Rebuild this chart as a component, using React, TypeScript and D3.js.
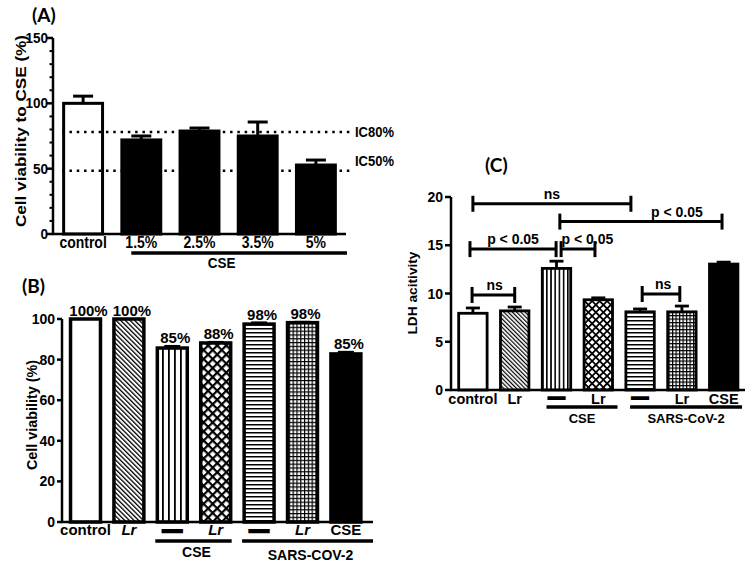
import React from "react";
import * as d3 from "d3";

const FONT = "'Liberation Sans', Arial, Helvetica, sans-serif";
const LABEL_FONT = "Lato, 'Liberation Sans', sans-serif";

// ---------- Panel A ----------
const aCategories = ["control", "1.5%", "2.5%", "3.5%", "5%"];
const aValues = [100, 72, 78.8, 75, 52.8];
const aErrors = [5.5, 3, 2.3, 10.7, 3.8];
const aTicks = [0, 50, 100, 150];
const aRefValues = [78, 48.5];
const aRefLabels = ["IC80%", "IC50%"];
const aGroupLabel = "CSE";
const aYTitle = "Cell viability to CSE (%)";

// ---------- Panel B ----------
const bCategories = ["control", "Lr", "—", "Lr", "—", "Lr", "CSE"];
const bValues = [100, 100, 85.7, 88.2, 97.5, 98.2, 82.8];
const bErrors = [0, 0, 0.9, 0.4, 0.7, 0.3, 0.9];
const bValueLabels = ["100%", "100%", "85%", "88%", "98%", "98%", "85%"];
const bTicks = [0, 20, 40, 60, 80, 100];
const bGroupLabels = ["CSE", "SARS-COV-2"];
const bGroupFrom = [2, 4];
const bGroupTo = [3, 6];
const bYTitle = "Cell viability (%)";

// ---------- Panel C ----------
const cCategories = ["control", "Lr", "—", "Lr", "—", "Lr", "CSE"];
const cValues = [7.95, 8.2, 12.6, 9.35, 8.1, 8.1, 13.05];
const cErrors = [0.55, 0.4, 0.75, 0.2, 0.3, 0.6, 0.2];
const cTicks = [0, 5, 10, 15, 20];
const cGroupLabels = ["CSE", "SARS-CoV-2"];
const cGroupFrom = [2, 4];
const cGroupTo = [3, 6];
const cYTitle = "LDH acitivity";
const cBracketLabels = ["ns", "p < 0.05", "p < 0.05", "p < 0.05", "ns", "ns"];
const cBracketFrom = [0, 2.08, -0.07, 2.11, -0.02, 4.05];
const cBracketTo = [3.78, 5.96, 1.99, 2.92, 1.0, 4.95];
const cBracketY = [19.3, 17.45, 14.6, 14.6, 9.85, 9.95];
const cBracketLabelPos = [1.89, 4.88, 0.96, 2.74, 0.52, 4.55];

// fill style for each bar (B and C share the same order)
const barStyles = ["white", "diag", "vert", "cross", "horiz", "grid", "black"];
const italicLr = [false, true, false, true, false, true, false];

function T({ x, y, sy = 1, children, ...rest }: any) {
  return (
    <text transform={`translate(${x},${y}) scale(1,${sy})`} {...rest}>
      {children}
    </text>
  );
}

function Patterns({ id, s }: { id: string; s: any }) {
  return (
    <>
      <pattern id={`${id}-diag`} patternUnits="userSpaceOnUse" width={s.diag[0]} height={10} patternTransform="rotate(-45)">
        <rect width={s.diag[0]} height={10} fill="white" />
        <rect width={s.diag[1]} height={10} fill="black" />
      </pattern>
      <pattern id={`${id}-vert`} patternUnits="userSpaceOnUse" width={s.vert[0]} height={10}>
        <rect width={s.vert[0]} height={10} fill="white" />
        <rect width={s.vert[1]} height={10} fill="black" />
      </pattern>
      <pattern id={`${id}-horiz`} patternUnits="userSpaceOnUse" width={10} height={s.horiz[0]}>
        <rect width={10} height={s.horiz[0]} fill="white" />
        <rect width={10} height={s.horiz[1]} fill="black" />
      </pattern>
      <pattern id={`${id}-cross`} patternUnits="userSpaceOnUse" width={s.cross[0]} height={s.cross[0]} patternTransform="rotate(45)">
        <rect width={s.cross[0]} height={s.cross[0]} fill="white" />
        <rect width={s.cross[0]} height={s.cross[1]} fill="black" />
        <rect width={s.cross[1]} height={s.cross[0]} fill="black" />
      </pattern>
      <pattern id={`${id}-grid`} patternUnits="userSpaceOnUse" width={s.grid[0]} height={s.grid[0]}>
        <rect width={s.grid[0]} height={s.grid[0]} fill="white" />
        <rect width={s.grid[0]} height={s.grid[1]} fill="black" />
        <rect width={s.grid[1]} height={s.grid[0]} fill="black" />
      </pattern>
    </>
  );
}

function fillFor(id: string, style: string) {
  if (style === "white") return "white";
  if (style === "black") return "black";
  return `url(#${id}-${style})`;
}

function PanelA() {
  const y = d3.scaleLinear().domain([0, 150]).range([234, 38]);
  const x = d3.scaleBand<number>().domain(d3.range(aCategories.length)).range([54, 345]).paddingInner(0.28).paddingOuter(0.14);
  const bw = x.bandwidth();
  const axisX = 53;
  const axisEnd = 346;
  const minor = d3.range(0, 151, 10).filter((v) => v % 50 !== 0);
  const sy = 1.15;
  const c = (i: number) => (x(i) as number) + bw / 2;
  return (
    <g>
      <text x={32} y={22} fontFamily={LABEL_FONT} fontWeight="bold" fontSize={19}>(A)</text>
      {aValues.map((v, i) => (
        <rect key={i} x={(x(i) as number) + 1.5} width={bw - 3} y={y(v)} height={y(0) - y(v)}
          fill={i === 0 ? "white" : "black"} stroke="black" strokeWidth={3} />
      ))}
      {aValues.map((v, i) => (
        <g key={i} stroke="black" strokeWidth={3}>
          <line x1={c(i)} x2={c(i)} y1={y(v)} y2={y(v + aErrors[i])} />
          <line x1={c(i) - 10} x2={c(i) + 10} y1={y(v + aErrors[i])} y2={y(v + aErrors[i])} />
        </g>
      ))}
      {aRefValues.map((v, i) => (
        <g key={i}>
          <line x1={x(0) as number} x2={axisEnd + 6} y1={y(v)} y2={y(v)} stroke="black" strokeWidth={2.5} strokeDasharray="2.5 4.8" />
          <T x={355} y={i === 0 ? y(v) + 5 : y(v) - 5} sy={sy} fontFamily={FONT} fontWeight="bold" fontSize={13}>{aRefLabels[i]}</T>
        </g>
      ))}
      <line x1={axisX} x2={axisX} y1={y(0) + 1} y2={y(150)} stroke="black" strokeWidth={2.5} />
      <line x1={axisX - 1} x2={axisEnd} y1={y(0)} y2={y(0)} stroke="black" strokeWidth={2.5} />
      {aTicks.map((t) => (
        <g key={t}>
          <line x1={axisX - 6} x2={axisX} y1={y(t)} y2={y(t)} stroke="black" strokeWidth={2.5} />
          <T x={48} y={y(t) + 5} sy={sy} textAnchor="end" fontFamily={FONT} fontWeight="bold" fontSize={13.5}>{t}</T>
        </g>
      ))}
      {minor.map((t) => (
        <line key={t} x1={axisX - 3.5} x2={axisX} y1={y(t)} y2={y(t)} stroke="black" strokeWidth={2} />
      ))}
      {aCategories.map((cat, i) => (
        <T key={i} x={c(i)} y={248} sy={sy} textAnchor="middle" fontFamily={FONT} fontWeight="bold" fontSize={14}>{cat}</T>
      ))}
      <line x1={c(1) - 10} x2={axisEnd + 1} y1={253} y2={253} stroke="black" strokeWidth={3.5} />
      <T x={(c(1) + c(4)) / 2 - 7} y={268} sy={sy} textAnchor="middle" fontFamily={FONT} fontWeight="bold" fontSize={13.5}>{aGroupLabel}</T>
      <text transform="translate(26,131) rotate(-90)" textAnchor="middle" fontFamily={FONT} fontWeight="bold" fontSize={15}
        textLength={192} lengthAdjust="spacingAndGlyphs">{aYTitle}</text>
    </g>
  );
}

function PanelB() {
  const id = "pb";
  const y = d3.scaleLinear().domain([0, 100]).range([522, 319]);
  const x = d3.scaleBand<number>().domain(d3.range(bCategories.length)).range([63.8, 367.6]).paddingInner(0.31).paddingOuter(0.155);
  const bw = x.bandwidth();
  const axisX = 62;
  const axisEnd = 373;
  const c = (i: number) => (x(i) as number) + bw / 2;
  return (
    <g>
      <defs>
        <Patterns id={id} s={{ diag: [3.3, 1.3], vert: [6, 1.8], horiz: [4, 1.5], cross: [6.4, 2.2], grid: [3.8, 1.2] }} />
      </defs>
      <text x={22} y={293} fontFamily={LABEL_FONT} fontWeight="bold" fontSize={19}>(B)</text>
      {bValues.map((v, i) => (
        <rect key={i} x={(x(i) as number)} width={bw} y={y(v)} height={y(0) - y(v)}
          fill={fillFor(id, barStyles[i])} stroke="black" strokeWidth={3.5} />
      ))}
      {bValues.map((v, i) =>
        bErrors[i] > 0 ? (
          <g key={i} stroke="black" strokeWidth={2.5}>
            <line x1={c(i)} x2={c(i)} y1={y(v)} y2={y(v + bErrors[i])} />
            <line x1={c(i) - 8} x2={c(i) + 8} y1={y(v + bErrors[i])} y2={y(v + bErrors[i])} />
          </g>
        ) : null
      )}
      {bValueLabels.map((l, i) => (
        <text key={i} x={c(i) + 3} y={y(bValues[i] + bErrors[i]) - 3} textAnchor="middle" fontFamily={FONT} fontWeight="bold" fontSize={15}>{l}</text>
      ))}
      <line x1={axisX} x2={axisX} y1={y(0) + 1} y2={y(100)} stroke="black" strokeWidth={2.5} />
      <line x1={axisX - 1} x2={axisEnd} y1={y(0)} y2={y(0)} stroke="black" strokeWidth={2.5} />
      {bTicks.map((t) => (
        <g key={t}>
          <line x1={axisX - 5} x2={axisX} y1={y(t)} y2={y(t)} stroke="black" strokeWidth={2.5} />
          <text x={55} y={y(t) + 5} textAnchor="end" fontFamily={FONT} fontWeight="bold" fontSize={14}>{t}</text>
        </g>
      ))}
      {bCategories.map((cat, i) =>
        cat === "—" ? (
          <text key={i} x={c(i)} y={536} textAnchor="middle" fontFamily={FONT} fontWeight="bold" fontSize={19} stroke="black" strokeWidth={2.4}>{cat}</text>
        ) : (
          <text key={i} x={c(i)} y={535} textAnchor="middle" fontFamily={FONT} fontWeight="bold" fontSize={15}
            fontStyle={italicLr[i] ? "italic" : "normal"}>{cat}</text>
        )
      )}
      {bGroupLabels.map((g, k) => {
        const x1 = c(bGroupFrom[k]) - 17;
        const x2 = bGroupTo[k] === bCategories.length - 1 ? axisEnd : (x(bGroupTo[k]) as number) + bw + 1;
        return (
          <g key={k}>
            <line x1={x1} x2={x2} y1={541} y2={541} stroke="black" strokeWidth={3.5} />
            <text x={(x1 + x2) / 2 + 3} y={k === 0 ? 557 : 560} textAnchor="middle" fontFamily={FONT} fontWeight="bold" fontSize={14}>{g}</text>
          </g>
        );
      })}
      <text transform="translate(37,415) rotate(-90)" textAnchor="middle" fontFamily={FONT} fontWeight="bold" fontSize={14}
        textLength={110} lengthAdjust="spacingAndGlyphs">{bYTitle}</text>
    </g>
  );
}

function PanelC() {
  const id = "pc";
  const y = d3.scaleLinear().domain([0, 20]).range([390, 197]);
  const x = d3.scaleBand<number>().domain(d3.range(cCategories.length)).range([452, 744.6]).paddingInner(0.32).paddingOuter(0.16);
  const bw = x.bandwidth();
  const step = x.step();
  const axisX = 451;
  const axisEnd = 745;
  const c = (i: number) => (x(i) as number) + bw / 2;
  const cp = (p: number) => c(0) + p * step;
  return (
    <g>
      <defs>
        <Patterns id={id} s={{ diag: [3, 1.2], vert: [4.2, 1.6], horiz: [4, 1.5], cross: [5.3, 1.8], grid: [3.5, 1.2] }} />
      </defs>
      <text x={485} y={172} fontFamily={LABEL_FONT} fontWeight="bold" fontSize={19}>(C)</text>
      {cValues.map((v, i) => (
        <rect key={i} x={(x(i) as number)} width={bw} y={y(v)} height={y(0) - y(v)}
          fill={fillFor(id, barStyles[i])} stroke="black" strokeWidth={2.8} />
      ))}
      {cValues.map((v, i) => (
        <g key={i} stroke="black" strokeWidth={2.8}>
          <line x1={c(i)} x2={c(i)} y1={y(v)} y2={y(v + cErrors[i])} />
          <line x1={c(i) - 7} x2={c(i) + 7} y1={y(v + cErrors[i])} y2={y(v + cErrors[i])} />
        </g>
      ))}
      <line x1={axisX} x2={axisX} y1={y(0) + 1} y2={y(20)} stroke="black" strokeWidth={2.5} />
      <line x1={axisX - 1} x2={axisEnd} y1={y(0)} y2={y(0)} stroke="black" strokeWidth={2.5} />
      {cTicks.map((t) => (
        <g key={t}>
          <line x1={axisX - 6} x2={axisX} y1={y(t)} y2={y(t)} stroke="black" strokeWidth={2.5} />
          <text x={443} y={y(t) + 5} textAnchor="end" fontFamily={FONT} fontWeight="bold" fontSize={14}>{t}</text>
        </g>
      ))}
      {cBracketLabels.map((l, k) => {
        const x1 = cp(cBracketFrom[k]);
        const x2 = cp(cBracketTo[k]);
        const yy = y(cBracketY[k]);
        return (
          <g key={k}>
            <line x1={x1} x2={x2} y1={yy} y2={yy} stroke="black" strokeWidth={3} />
            <line x1={x1} x2={x1} y1={yy - 8} y2={yy + 8} stroke="black" strokeWidth={3} />
            <line x1={x2} x2={x2} y1={yy - 8} y2={yy + 8} stroke="black" strokeWidth={3} />
            <text x={cp(cBracketLabelPos[k])} y={yy - 5} textAnchor="middle" fontFamily={FONT} fontWeight="bold" fontSize={14}>{l}</text>
          </g>
        );
      })}
      {cCategories.map((cat, i) =>
        cat === "—" ? (
          <text key={i} x={c(i)} y={403} textAnchor="middle" fontFamily={FONT} fontWeight="bold" fontSize={16} stroke="black" strokeWidth={2.2}>{cat}</text>
        ) : (
          <text key={i} x={c(i)} y={404} textAnchor="middle" fontFamily={FONT} fontWeight="bold" fontSize={14.5}>{cat}</text>
        )
      )}
      {cGroupLabels.map((g, k) => {
        const x1 = c(cGroupFrom[k]) - 10;
        const x2 = cGroupTo[k] === cCategories.length - 1 ? axisEnd - 3 : (x(cGroupTo[k]) as number) + bw + 5;
        return (
          <g key={k}>
            <line x1={x1} x2={x2} y1={407} y2={407} stroke="black" strokeWidth={3.5} />
            <text x={(x1 + x2) / 2} y={423} textAnchor="middle" fontFamily={FONT} fontWeight="bold" fontSize={13}>{g}</text>
          </g>
        );
      })}
      <text transform="translate(417,293) rotate(-90)" textAnchor="middle" fontFamily={FONT} fontWeight="bold" fontSize={13.5}
        textLength={83} lengthAdjust="spacingAndGlyphs">{cYTitle}</text>
    </g>
  );
}

export default function App() {
  return (
    <svg width={749} height={563} viewBox="0 0 749 563" style={{ position: "absolute", left: 0, top: 0, background: "white" }}>
      <rect width={749} height={563} fill="white" />
      <PanelA />
      <PanelB />
      <PanelC />
    </svg>
  );
}
